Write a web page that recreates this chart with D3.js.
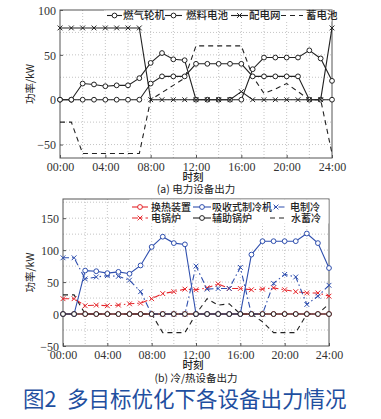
<!DOCTYPE html>
<html><head><meta charset="utf-8">
<script src="https://cdn.jsdelivr.net/npm/d3@7"></script>
<style>body{margin:0;background:#fff}svg{display:block}</style>
</head><body>
<svg id="c" width="381" height="419"></svg>
<script>
// ---------- data ----------
const hours = d3.range(0, 25);
const xTickLabels = ["00:00","04:00","08:00","12:00","16:00","20:00","24:00"];

// (a) electric equipment
const gasTurbine = [0,0,18,17,15,16,16,24,41,52,45,44,0,0,0,0,0,34,47,47,47,47,55,46,21];
const fuelCell   = [0,0,0,0,0,0,0,0,18,26,26,26,40,40,40,40,40,26,26,26,26,26,0,0,0];
const gridPower  = [80,80,80,80,80,80,80,80,0,0,0,0,0,0,0,0,9,0,0,0,0,0,0,0,80];
const battery    = [-25,-25,-60,-60,-60,-60,-60,-60,0,8,16,24,60,60,60,60,60,26,7,12,18,9,0,0,-60];
const yTicksA = [-50,0,50,100];

// (b) cooling / heating equipment
const heatExchanger = [0,0,0,0,0,0,0,0,0,0,0,0,0,0,0,0,0,0,0,0,0,0,0,0,0];
const absorption    = [0,0,68,67,64,66,63,76,105,121,111,109,0,0,0,0,0,93,114,114,114,114,126,111,72];
const elecChiller   = [88,88,55,58,60,59,53,35,0,0,0,0,75,39,40,40,73,0,0,48,62,58,15,28,45];
const elecBoiler    = [24,24,13,14,13,14,16,17,24,32,35,39,38,41,47,40,40,38,39,41,38,35,33,33,28];
const auxBoiler     = [0,0,0,0,0,0,0,0,0,0,0,0,0,0,0,0,0,0,0,0,0,0,0,0,0];
const waterStorage  = [30,30,0,0,0,0,0,0,0,-29,-29,-29,0,24,14,16,0,0,-12,-29,-29,-29,0,0,16];
const yTicksB = [-50,0,50,100,150];

const RED = "#e5262b", BLUE = "#2f4fae", BLACK = "#222";
const svg = d3.select("#c");
const serif = "'Liberation Serif','DejaVu Serif',serif";
const cjk = "'Noto Sans CJK SC','Noto Sans',sans-serif";

function panel(o) {
  const x = d3.scaleLinear().domain([0,24]).range([o.x0,o.x1]);
  const y = d3.scaleLinear().domain(o.ydom).range([o.y1,o.y0]);
  const g = svg.append("g");
  g.append("g").selectAll("line").data(d3.range(2,24,2)).join("line")
    .attr("x1",d=>x(d)).attr("x2",d=>x(d)).attr("y1",o.y0).attr("y2",o.y1)
    .attr("stroke","#b5b5b5").attr("stroke-width",0.8).attr("stroke-dasharray","1,2");
  const gy = d3.range(Math.ceil(o.ydom[0]/25)*25, o.ydom[1]+1, 25).filter(v=>y(v)>o.y0+1 && y(v)<o.y1-1);
  g.append("g").selectAll("line").data(gy).join("line")
    .attr("x1",o.x0).attr("x2",o.x1).attr("y1",d=>y(d)).attr("y2",d=>y(d))
    .attr("stroke","#b5b5b5").attr("stroke-width",0.8).attr("stroke-dasharray","1,2");
  const ax = g.append("g").attr("transform",`translate(0,${o.y1})`)
    .call(d3.axisBottom(x).tickValues(d3.range(0,25,4)).tickFormat((d,i)=>xTickLabels[i]).tickSize(-3).tickPadding(4));
  const ay = g.append("g").attr("transform",`translate(${o.x0},0)`)
    .call(d3.axisLeft(y).tickValues(o.yticks).tickFormat(d=>d<0?"\u2212"+Math.abs(d):d).tickSize(-3).tickPadding(4));
  [ax,ay].forEach(a=>{
    a.select(".domain").remove();
    a.selectAll("line").attr("stroke","#555");
    a.selectAll("text").attr("font-family",serif).attr("font-size",12).attr("fill","#333");
  });
  ay.selectAll("text").attr("dy","0.35em");
  g.append("rect").attr("x",o.x0).attr("y",o.y0).attr("width",o.x1-o.x0).attr("height",o.y1-o.y0)
    .attr("fill","none").attr("stroke","#555").attr("stroke-width",1);
  g.append("text").attr("transform",`translate(${o.ylabX},${(o.y0+o.y1)/2}) rotate(-90)`)
    .attr("text-anchor","middle").attr("font-family",cjk).attr("font-size",10.5).attr("fill","#222")
    .text("功率/kW");
  g.append("text").attr("x",(o.x0+o.x1)/2-3).attr("y",o.xlabY).attr("text-anchor","middle")
    .attr("font-family",cjk).attr("font-size",10.5).attr("font-weight",500).attr("fill","#222").text("时刻");
  g.append("text").attr("x",(o.x0+o.x1)/2).attr("y",o.capY).attr("text-anchor","middle")
    .attr("font-family",cjk).attr("font-size",10.5).attr("fill","#222").text(o.caption);
  return {x,y,g};
}

function series(p, vals, s) {
  const line = d3.line().x((d,i)=>p.x(hours[i])).y(d=>p.y(d));
  p.g.append("path").datum(vals).attr("d",line).attr("fill","none")
    .attr("stroke",s.color).attr("stroke-width",1.1).attr("stroke-dasharray",s.dash||null);
  if (s.marker) drawMarkers(p.g, vals.map((v,i)=>[p.x(hours[i]),p.y(v)]), s);
}
function drawMarkers(g, pts, s) {
  if (s.marker==="o") {
    g.append("g").selectAll("circle").data(pts).join("circle")
      .attr("cx",d=>d[0]).attr("cy",d=>d[1]).attr("r",2.4)
      .attr("fill","#fff").attr("stroke",s.color).attr("stroke-width",1);
  } else if (s.marker==="x") {
    const r=2.4;
    g.append("g").selectAll("path").data(pts).join("path")
      .attr("d",d=>`M${d[0]-r},${d[1]-r}L${d[0]+r},${d[1]+r}M${d[0]-r},${d[1]+r}L${d[0]+r},${d[1]-r}`)
      .attr("stroke",s.color).attr("stroke-width",1).attr("fill","none");
  }
}
function legendItem(g, x1, x2, y, s, label, tx, fs) {
  g.append("line").attr("x1",x1).attr("x2",x2).attr("y1",y).attr("y2",y)
    .attr("stroke",s.color).attr("stroke-width",1.1).attr("stroke-dasharray",s.dash||null);
  if (s.marker) drawMarkers(g, [[(x1+x2)/2,y]], s);
  g.append("text").attr("x",tx).attr("y",y+3.6).attr("font-family",cjk).attr("font-size",fs||10.5)
    .attr("font-weight",500).attr("fill","#222").text(label);
}

// ---------- panel (a) ----------
const pa = panel({x0:60,x1:332,y0:10,y1:158,ydom:[-65,100],yticks:yTicksA,ylabX:34,xlabY:181,capY:193,caption:"(a) 电力设备出力"});
const sGT={color:BLACK,marker:"o"}, sFC={color:BLACK,marker:"o"}, sGrid={color:BLACK,marker:"x"}, sBat={color:BLACK,dash:"5,4"};
pa.g.append("rect").attr("x",104).attr("y",10.5).attr("width",227.5).attr("height",11).attr("fill","#fff");
series(pa, battery, sBat);
series(pa, gasTurbine, sGT);
series(pa, fuelCell, sFC);
series(pa, gridPower, sGrid);
legendItem(pa.g,107,122,15.5,sGT,"燃气轮机",123);
legendItem(pa.g,165,182,15.5,sFC,"燃料电池",186);
legendItem(pa.g,231,248,15.5,sGrid,"配电网",249);
legendItem(pa.g,281,303,15.5,sBat,"蓄电池",306);

// ---------- panel (b) ----------
const pb = panel({x0:63,x1:329,y0:199,y1:346,ydom:[-50,180],yticks:yTicksB,ylabX:34,xlabY:369,capY:382,caption:"(b) 冷/热设备出力"});
const sHE={color:RED,marker:"o"}, sAbs={color:BLUE,marker:"o"}, sEC={color:BLUE,marker:"x",dash:"6,3,1.5,3"},
      sEB={color:RED,marker:"x",dash:"6,3,1.5,3"}, sAux={color:BLACK,marker:"o"}, sWS={color:BLACK,dash:"5,4"};
pb.g.append("rect").attr("x",129).attr("y",199.5).attr("width",199.5).attr("height",24).attr("fill","#fff");
series(pb, waterStorage, sWS);
series(pb, heatExchanger, sHE);
series(pb, elecBoiler, sEB);
series(pb, elecChiller, sEC);
series(pb, absorption, sAbs);
series(pb, auxBoiler, sAux);
legendItem(pb.g,132,148,207,sHE,"换热装置",151,10);
legendItem(pb.g,193,211,207,sAbs,"吸收式制冷机",212,10);
legendItem(pb.g,265,287,207,sEC,"电制冷",290,10);
legendItem(pb.g,132,148,218,sEB,"电锅炉",151,10);
legendItem(pb.g,193,211,218,sAux,"辅助锅炉",212,10);
legendItem(pb.g,270,287,218,sWS,"水蓄冷",291,10);

// ---------- figure title ----------
const title = svg.append("text").attr("y",407).attr("font-family",cjk).attr("font-size",21.5).attr("fill","#1f4fa0");
title.append("tspan").attr("x",23).text("图2");
title.append("tspan").attr("x",67).text("多目标优化下各设备出力情况");
</script>
</body></html>
